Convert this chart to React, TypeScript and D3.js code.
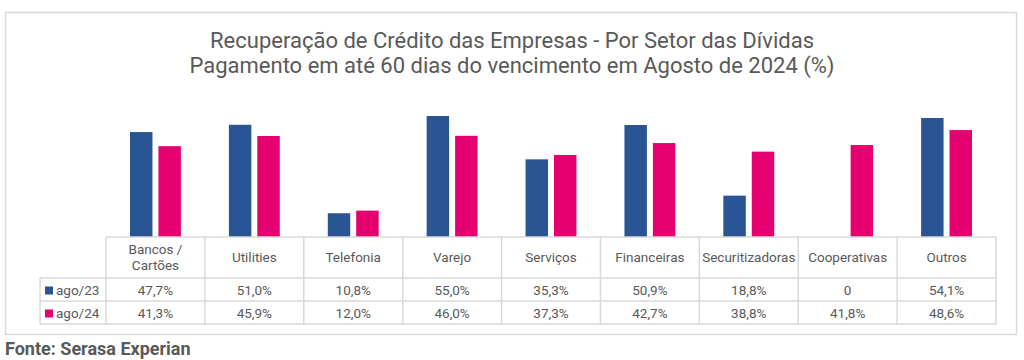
import { useEffect, useRef } from 'react'
import * as d3 from 'd3'

// Recuperação de crédito por setor — ago/23 vs ago/24 (%), com tabela de dados embaixo
const categories = ['Bancos /\nCartões', 'Utilities', 'Telefonia', 'Varejo', 'Serviços', 'Financeiras', 'Securitizadoras', 'Cooperativas', 'Outros']
const seriesNames = ['ago/23', 'ago/24']
const ago23 = [47.7, 51.0, 10.8, 55.0, 35.3, 50.9, 18.8, 0, 54.1]
const ago24 = [41.3, 45.9, 12.0, 46.0, 37.3, 42.7, 38.8, 41.8, 48.6]
const ago23Labels = ['47,7%', '51,0%', '10,8%', '55,0%', '35,3%', '50,9%', '18,8%', '0', '54,1%']
const ago24Labels = ['41,3%', '45,9%', '12,0%', '46,0%', '37,3%', '42,7%', '38,8%', '41,8%', '48,6%']
const titleLines = ['Recuperação de Crédito das Empresas - Por Setor das Dívidas', 'Pagamento em até 60 dias do vencimento em Agosto de 2024 (%)']

const COLORS = ['#2a5595', '#e6006f']
const GRID = '#d9d9d9'
const TXT = '#595959'
const FONT = 'Roboto, "Noto Sans", sans-serif'

export default function App() {
  const ref = useRef<SVGSVGElement>(null)

  useEffect(() => {
    document.body.style.margin = '0'
    const W = 1024, H = 360
    const svg = d3.select(ref.current)
    svg.selectAll('*').remove()
    svg.attr('width', W).attr('height', H).attr('viewBox', `0 0 ${W} ${H}`)

    // moldura
    svg.append('rect')
      .attr('x', 5.5).attr('y', 12.5).attr('width', 1011).attr('height', 322)
      .attr('fill', '#fff').attr('stroke', GRID).attr('stroke-width', 1.5)

    // título
    svg.append('g').selectAll('text').data(titleLines).join('text')
      .attr('x', 512).attr('y', (d, i) => 48 + i * 25)
      .attr('text-anchor', 'middle')
      .attr('font-family', FONT).attr('font-size', 22).attr('fill', TXT)
      .text(d => d)

    const tableLeft = 106, tableRight = 996
    const rows = [237, 278, 301, 324]
    const legendLeft = 40

    const x0 = d3.scaleBand<string>().domain(categories).range([tableLeft, tableRight]).padding(0)
    const bw = x0.bandwidth()
    const x1 = d3.scaleBand<string>().domain(seriesNames).range([24, bw - 24]).paddingInner(0.21)
    const y = d3.scaleLinear().domain([0, 60]).range([rows[0], rows[0] - 132])

    const series = [ago23, ago24]
    const g = svg.append('g')
    series.forEach((vals, si) => {
      g.append('g').selectAll('rect').data(vals).join('rect')
        .attr('x', (d, i) => (x0(categories[i]) as number) + (x1(seriesNames[si]) as number))
        .attr('y', d => y(d))
        .attr('width', x1.bandwidth())
        .attr('height', d => y(0) - y(d))
        .attr('fill', COLORS[si])
    })

    // tabela de dados
    const grid = svg.append('g').attr('stroke', GRID).attr('stroke-width', 1.5).attr('fill', 'none')
    grid.append('line').attr('x1', tableLeft).attr('x2', tableRight).attr('y1', rows[0]).attr('y2', rows[0])
    rows.slice(1).forEach(r => {
      grid.append('line').attr('x1', legendLeft).attr('x2', tableRight).attr('y1', r).attr('y2', r)
    })
    grid.append('line').attr('x1', legendLeft).attr('x2', legendLeft).attr('y1', rows[1]).attr('y2', rows[3])
    categories.forEach(c => {
      const xx = x0(c) as number
      grid.append('line').attr('x1', xx).attr('x2', xx).attr('y1', rows[0]).attr('y2', rows[3])
    })
    grid.append('line').attr('x1', tableRight).attr('x2', tableRight).attr('y1', rows[0]).attr('y2', rows[3])

    const txt = svg.append('g').attr('font-family', FONT).attr('font-size', 13.5).attr('fill', TXT).attr('text-anchor', 'middle')
    categories.forEach(c => {
      const parts = c.split('\n')
      const cx = (x0(c) as number) + bw / 2
      const mid = (rows[0] + rows[1]) / 2
      parts.forEach((p, pi) => {
        txt.append('text')
          .attr('x', cx)
          .attr('y', mid + 4 + (pi - (parts.length - 1) / 2) * 16)
          .text(p)
      })
    })
    const labelRows = [ago23Labels, ago24Labels]
    labelRows.forEach((labels, ri) => {
      const ty = (rows[ri + 1] + rows[ri + 2]) / 2 + 5
      labels.forEach((l, i) => {
        txt.append('text').attr('x', (x0(categories[i]) as number) + bw / 2).attr('y', ty).text(l)
      })
      svg.append('rect')
        .attr('x', 45).attr('y', ty - 8).attr('width', 8).attr('height', 8)
        .attr('fill', COLORS[ri])
      svg.append('text')
        .attr('x', 56).attr('y', ty)
        .attr('font-family', FONT).attr('font-size', 13.5).attr('fill', TXT)
        .text(seriesNames[ri])
    })

    // fonte
    svg.append('text')
      .attr('x', 5).attr('y', 355)
      .attr('font-family', FONT).attr('font-size', 18).attr('font-weight', 700).attr('fill', TXT)
      .text('Fonte: Serasa Experian')
  }, [])

  return <svg ref={ref} style={{ display: 'block' }} />
}
